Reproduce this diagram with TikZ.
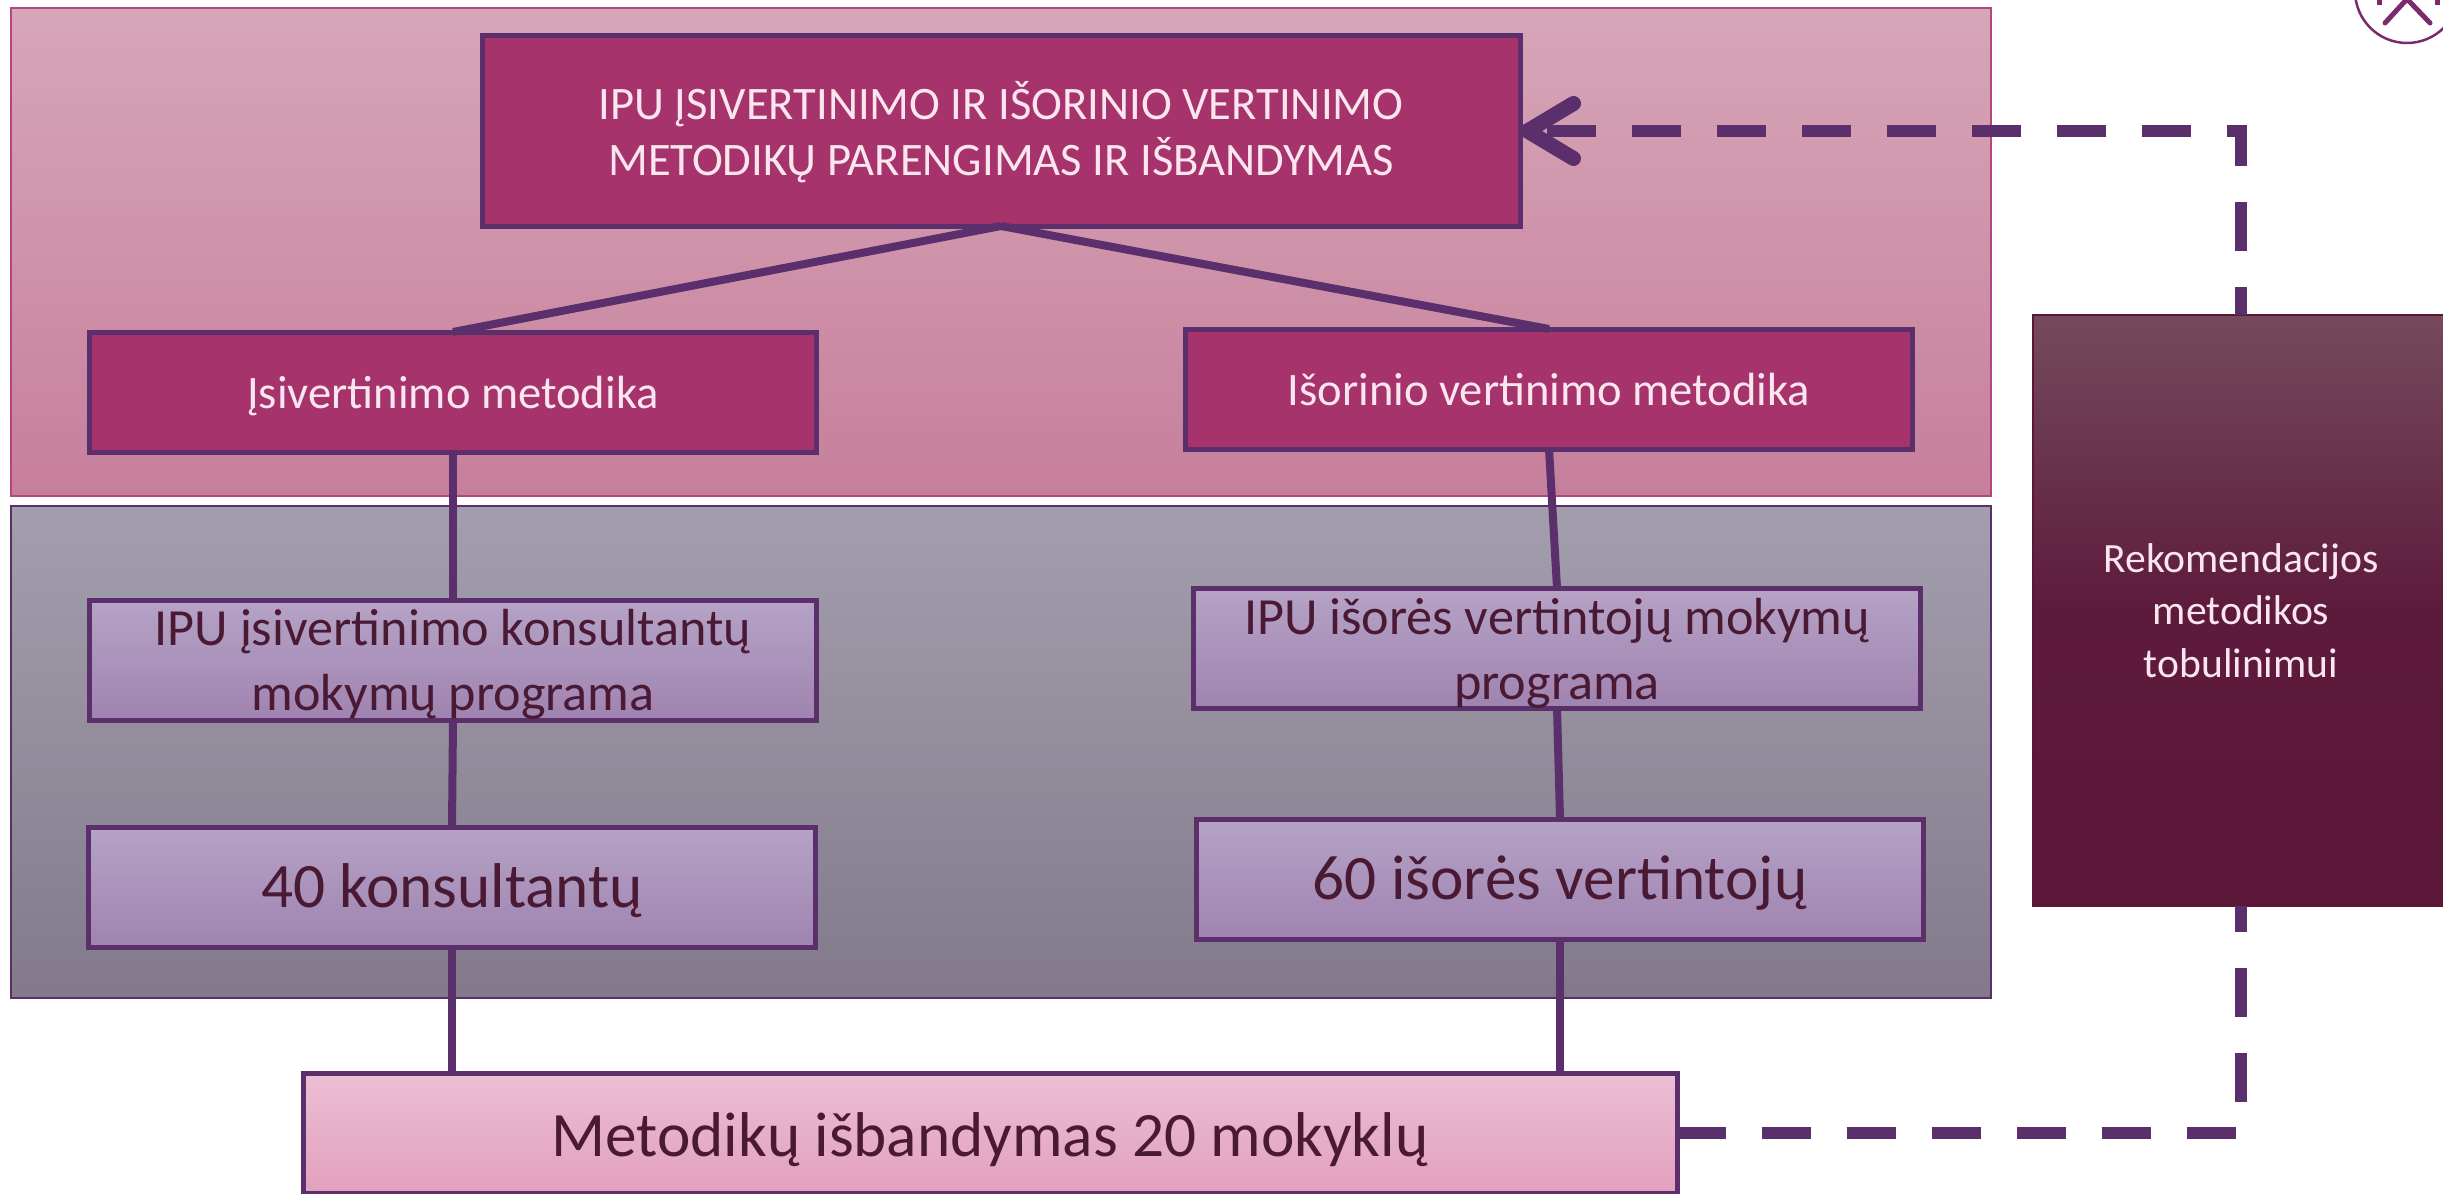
\documentclass[tikz,border=0pt]{standalone}
\usepackage{fontspec}
\setmainfont{Carlito}
\usetikzlibrary{arrows.meta}
\definecolor{edgeviolet}{HTML}{5A2F6C}
\definecolor{boxplum}{HTML}{A6336B}
\definecolor{textlight}{HTML}{FBE6EF}
\definecolor{textdark}{HTML}{4A1A35}
\definecolor{logoplum}{HTML}{7B2A6E}
\definecolor{lilactop}{HTML}{B6A3C6}
\definecolor{lilacbot}{HTML}{9F83B0}
\definecolor{pinkedge}{HTML}{B5457F}
\definecolor{pinktop}{HTML}{D7A6B8}
\definecolor{pinkbot}{HTML}{C67F9B}
\definecolor{greytop}{HTML}{A39EAD}
\definecolor{greybot}{HTML}{827A8A}
\definecolor{testtop}{HTML}{ECBED4}
\definecolor{testbot}{HTML}{E2A0BD}
\definecolor{rectop}{HTML}{754A5C}
\definecolor{recmid}{HTML}{5D1B3C}
\definecolor{recbot}{HTML}{5B1638}
\def\unit{0.02cm}
\def\low#1#2{\raisebox{#1}[0.7em][0.2em]{#2}}
\tikzset{
  band/.style={line width=0.03cm,inner sep=0,outer sep=0,minimum width=1980*\unit},
  plumbox/.style={draw=edgeviolet,line width=0.1cm,fill=boxplum,text=textlight,inner sep=0,outer sep=0,align=center},
  lilacbox/.style={draw=edgeviolet,line width=0.1cm,top color=lilactop,bottom color=lilacbot,text=textdark,inner sep=0,outer sep=0,align=center},
  link/.style={draw=edgeviolet,line width=0.16cm},
  feedback/.style={draw=edgeviolet,line width=0.24cm,dash pattern=on 0.98cm off 0.72cm},
}
\begin{document}
\begin{tikzpicture}[x=0.02cm,y=-0.02cm]
  \useasboundingbox(0,0)rectangle(2443,1193);
  \clip(0,0)rectangle(2443,1193);

  \node[band,draw=pinkedge,top color=pinktop,bottom color=pinkbot,minimum height=488*\unit](pinkband)at(1001,252){};%upper band
  \node[band,draw=edgeviolet,top color=greytop,bottom color=greybot,minimum height=492*\unit](greyband)at(1001,752){};%lower band

  \node[plumbox,minimum width=1038*\unit,minimum height=190*\unit,font=\fontsize{26.5}{32}\selectfont](top)at(1001,131)
      {\low{-2.8pt}{IPU ĮSIVERTINIMO IR IŠORINIO VERTINIMO}\\\low{-2.8pt}{METODIKŲ PARENGIMAS IR IŠBANDYMAS}};
  \node[plumbox,minimum width=727*\unit,minimum height=120*\unit,font=\fontsize{26.5}{32}\selectfont](selfm)at(453,392){\low{-2.8pt}{Įsivertinimo metodika}};
  \node[plumbox,minimum width=727*\unit,minimum height=120*\unit,font=\fontsize{26.5}{32}\selectfont](extm)at(1549,389){\low{-2.8pt}{Išorinio vertinimo metodika}};

  \node[lilacbox,minimum width=727*\unit,minimum height=120*\unit,font=\fontsize{29.7}{37}\selectfont](selfp)at(453,660)
      {\low{-2.8pt}{IPU įsivertinimo konsultantų}\\\low{-2.8pt}{mokymų programa}};
  \node[lilacbox,minimum width=727*\unit,minimum height=120*\unit,font=\fontsize{29.7}{37}\selectfont](extp)at(1557,648)
      {\low{-3.3pt}{IPU išorės vertintojų mokymų}\\\low{-3.3pt}{programa}};
  \node[lilacbox,minimum width=727*\unit,minimum height=120*\unit,font=\fontsize{36}{44}\selectfont](selfn)at(452,887){\low{-2.8pt}{40 konsultantų}};
  \node[lilacbox,minimum width=727*\unit,minimum height=120*\unit,font=\fontsize{36}{44}\selectfont](extn)at(1560,879){\low{-2.8pt}{60 išorės vertintojų}};

  \node[draw=edgeviolet,line width=0.1cm,top color=testtop,bottom color=testbot,text=textdark,inner sep=0,outer sep=0,minimum width=1374*\unit,minimum height=120*\unit,font=\fontsize{36}{44}\selectfont](test)at(990,1133){\low{-4.5pt}{Metodikų išbandymas 20 mokyklų}};

  \node[draw=recbot,line width=0.04cm,top color=rectop,bottom color=recbot,middle color=recmid,text=textlight,inner sep=0,outer sep=0,align=center,minimum width=416*\unit,minimum height=591*\unit,font=\fontsize{23.7}{30}\selectfont](rec)at(2241,610.5)
      {Rekomendacijos\\metodikos\\tobulinimui};

  \draw[link](top.south)--(selfm.north);%two methods
  \draw[link](top.south)--(extm.north);
  \draw[link](selfm.south)--(selfp.north);
  \draw[link](extm.south)--(extp.north);
  \draw[link](selfp.south)--(selfn.north);
  \draw[link](extp.south)--(extn.north);
  \draw[link](selfn.south)--(selfn.south|-test.north);
  \draw[link](extn.south)--(extn.south|-test.north);

  \draw[feedback](test.east)-|(rec.south);%to the recommendations
  \draw[feedback,dash phase=0.42cm,-{Straight Barb[length=0.92cm,width=1.1cm,round,line width=0.3cm 0]}](rec.north)|-(top.east);

  \draw[draw=logoplum,line width=0.05cm](2407,-9)circle(52);%logo
  \draw[draw=logoplum,line width=0.1cm,line cap=round](2385,23)--(2407,-1)--(2430,23);
  \draw[draw=logoplum,line width=0.1cm](2379,-2)--(2379,5);
  \draw[draw=logoplum,line width=0.1cm](2437,-2)--(2437,5);
\end{tikzpicture}
\end{document}
